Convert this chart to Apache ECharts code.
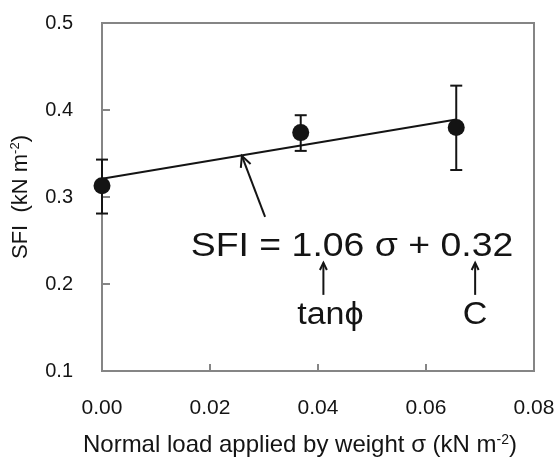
<!DOCTYPE html>
<html>
<head>
<meta charset="utf-8">
<script src="https://cdn.jsdelivr.net/npm/echarts@6/dist/echarts.min.js"></script>
<style>
  html, body { margin: 0; padding: 0; background: #fff; }
  #chart { width: 556px; height: 457px; }
</style>
</head>
<body>
<div id="chart"></div>
<script>
// normal load (kN m-2) and SFI readings
var sigma = [0.0, 0.0368, 0.0656];
var sfi = [0.313, 0.374, 0.380];
var sfiLow = [0.281, 0.353, 0.331];
var sfiHigh = [0.343, 0.394, 0.428];

// fitted line SFI = 1.06 sigma + 0.32
var fitX = [0, 0.0656];
var fitY = [0.321, 0.389];

var xTicks = [0, 0.02, 0.04, 0.06, 0.08];
var yTicks = [0.1, 0.2, 0.3, 0.4, 0.5];

var font = '"Liberation Sans", Arial, sans-serif';
var ink = '#141414';
var axisGrey = '#858585';

var points = sigma.map(function (s, i) { return [s, sfi[i]]; });
var bars = sigma.map(function (s, i) { return [s, sfiLow[i], sfiHigh[i]]; });
var fit = fitX.map(function (x, i) { return [x, fitY[i]]; });

var myChart = echarts.init(document.getElementById('chart'));

var option = {
    backgroundColor: '#fff',
    animation: false,
    grid: {
        left: 102, right: 22, top: 23, bottom: 86,
        outerBoundsMode: 'none',
        show: true, borderColor: axisGrey, borderWidth: 2
    },
    xAxis: {
        type: 'value',
        min: xTicks[0], max: xTicks[xTicks.length - 1], interval: 0.02,
        name: 'Normal load applied by weight σ (kN m{sup|-2})',
        nameLocation: 'middle', nameGap: 62,
        nameTextStyle: {
            fontFamily: font, fontSize: 24, color: ink,
            padding: [0, 36, 0, 0],
            rich: { sup: { fontFamily: font, fontSize: 14, color: ink, padding: [0, 0, 11, 0] } }
        },
        axisLine: { lineStyle: { color: axisGrey, width: 2 } },
        axisTick: { inside: true, length: 7, lineStyle: { color: axisGrey, width: 2 } },
        axisLabel: {
            margin: 27, fontFamily: font, fontSize: 21, color: ink,
            formatter: function (v) { return v.toFixed(2); }
        },
        splitLine: { show: false }
    },
    yAxis: {
        type: 'value',
        min: yTicks[0], max: yTicks[yTicks.length - 1], interval: 0.1,
        name: 'SFI  (kN m{sup|-2})',
        nameLocation: 'middle', nameGap: 70, nameRotate: 90,
        nameTextStyle: {
            fontFamily: font, fontSize: 22, color: ink,
            rich: { sup: { fontFamily: font, fontSize: 13, color: ink, padding: [0, 0, 10, 0] } }
        },
        axisLine: { lineStyle: { color: axisGrey, width: 2 } },
        axisTick: { inside: true, length: 8, lineStyle: { color: axisGrey, width: 2 } },
        axisLabel: {
            margin: 29, fontFamily: font, fontSize: 20, color: ink,
            formatter: function (v) { return v.toFixed(1); }
        },
        splitLine: { show: false }
    },
    series: [
        {
            name: 'fit',
            type: 'line',
            data: fit,
            symbol: 'none',
            lineStyle: { color: ink, width: 2 },
            z: 2
        },
        {
            name: 'error',
            type: 'custom',
            data: bars,
            renderItem: function (params, api) {
                var x = api.value(0);
                var lo = api.coord([x, api.value(1)]);
                var hi = api.coord([x, api.value(2)]);
                var cap = 6;
                var st = { stroke: ink, lineWidth: 2 };
                return {
                    type: 'group',
                    children: [
                        { type: 'line', shape: { x1: lo[0], y1: lo[1], x2: hi[0], y2: hi[1] }, style: st },
                        { type: 'line', shape: { x1: lo[0] - cap, y1: lo[1], x2: lo[0] + cap, y2: lo[1] }, style: st },
                        { type: 'line', shape: { x1: hi[0] - cap, y1: hi[1], x2: hi[0] + cap, y2: hi[1] }, style: st }
                    ]
                };
            },
            z: 3
        },
        {
            name: 'SFI',
            type: 'scatter',
            data: points,
            symbol: 'circle',
            symbolSize: 17,
            itemStyle: { color: ink, opacity: 1 },
            z: 4
        }
    ]
};

myChart.setOption(option);

// annotation: equation text and arrows placed in data coordinates
function px(p) { return myChart.convertToPixel({ gridIndex: 0 }, p); }

function arrow(from, to, head) {
    var a = px(from), b = px(to);
    var ang = Math.atan2(b[1] - a[1], b[0] - a[0]);
    var w = 0.45;
    var h1 = [b[0] - head * Math.cos(ang - w), b[1] - head * Math.sin(ang - w)];
    var h2 = [b[0] - head * Math.cos(ang + w), b[1] - head * Math.sin(ang + w)];
    var st = { stroke: ink, lineWidth: 2, fill: null };
    return [
        { type: 'line', shape: { x1: a[0], y1: a[1], x2: b[0], y2: b[1] }, style: st },
        { type: 'polyline', shape: { points: [h1, b, h2] }, style: st }
    ];
}

function label(text, at, size) {
    var p = px(at);
    return {
        type: 'text', x: p[0], y: p[1], scaleX: 1.1,
        style: {
            text: text, font: size + 'px ' + font, fill: ink,
            align: 'center', verticalAlign: 'middle'
        }
    };
}

var graphics = []
    .concat(arrow([0.0302, 0.2771], [0.0259, 0.3473], 12))
    .concat(arrow([0.0410, 0.1875], [0.0410, 0.2244], 8))
    .concat(arrow([0.0691, 0.1875], [0.0691, 0.2244], 8));
graphics.push(label('SFI = 1.06 σ + 0.32', [0.0463, 0.2426], 34));
graphics.push(label('tanϕ', [0.0423, 0.1634], 31));
graphics.push(label('C', [0.0691, 0.1634], 31));

myChart.setOption({ graphic: { elements: graphics } });
</script>
</body>
</html>
